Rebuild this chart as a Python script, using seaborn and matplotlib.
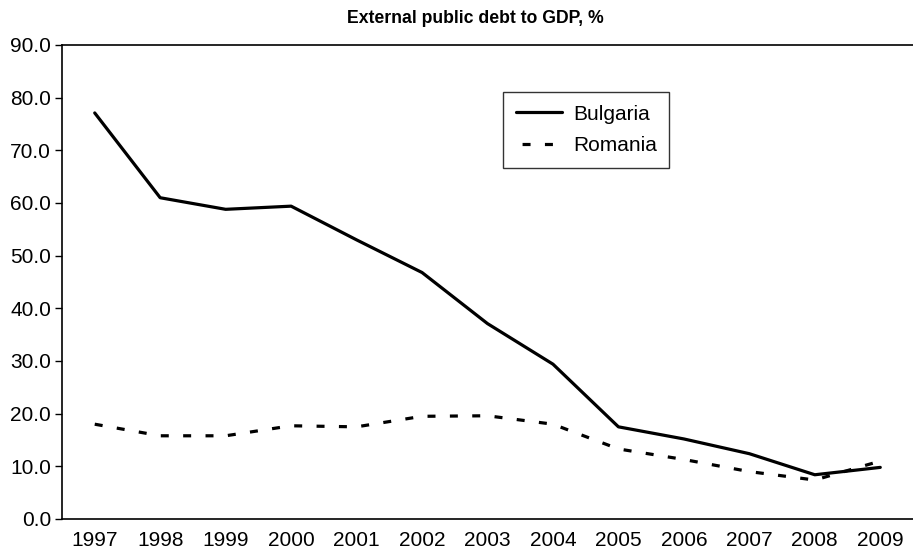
import matplotlib
matplotlib.use("Agg")
import matplotlib.pyplot as plt
import seaborn as sns
import pandas as pd
import numpy as np

years = ["1997", "1998", "1999", "2000", "2001", "2002", "2003",
         "2004", "2005", "2006", "2007", "2008", "2009"]
bulgaria = [77.1, 61.0, 58.8, 59.4, 53.0, 46.8, 37.1, 29.4, 17.5, 15.2, 12.4, 8.4, 9.8]
romania = [18.0, 15.8, 15.8, 17.7, 17.5, 19.5, 19.6, 18.0, 13.3, 11.3, 9.0, 7.4, 11.0]

sns.set_theme(style="white")
plt.rcParams["font.family"] = ["Liberation Sans", "DejaVu Sans"]
plt.rcParams.update({"text.color": "black", "axes.labelcolor": "black",
                     "xtick.color": "black", "ytick.color": "black"})

df = pd.DataFrame({
    "pos": list(range(len(years))) * 2,
    "value": bulgaria + romania,
    "country": ["Bulgaria"] * len(years) + ["Romania"] * len(years),
})

fig = plt.figure(figsize=(9.13, 5.55), dpi=100)
ax = fig.add_axes([62 / 913, 36 / 555, (913 - 62) / 913, (519 - 45) / 555])

sns.lineplot(data=df, x="pos", y="value", hue="country", style="country",
             palette={"Bulgaria": "black", "Romania": "black"},
             dashes={"Bulgaria": "", "Romania": (2.5, 4.5)},
             linewidth=2.3, ax=ax, legend=True)

ax.set_xlim(-0.5, (913 - 62) / 65.9 - 0.5)
ax.set_ylim(0, 90)
ax.set_yticks(np.arange(0, 91, 10))
ax.set_yticklabels([f"{v:.1f}" for v in np.arange(0, 91, 10)], fontsize=15)

# labels centred on categories, tick marks on category boundaries
ax.set_xticks(range(len(years)))
ax.set_xticklabels(years, fontsize=15)
ax.set_xticks(np.arange(-0.5, len(years), 1.0), minor=True)
ax.tick_params(axis="x", which="major", length=0, pad=9)
ax.tick_params(axis="x", which="minor", length=5, width=1, color="black", direction="out")
ax.tick_params(axis="y", length=5, width=1, color="black", direction="out", left=True, pad=3)
ax.set_xlabel("")
ax.set_ylabel("")

for side in ["left", "bottom", "top"]:
    ax.spines[side].set_visible(True)
    ax.spines[side].set_color("black")
    ax.spines[side].set_linewidth(1.2)
ax.spines["right"].set_visible(False)

ax.set_title("External public debt to GDP, %", fontsize=12.7, fontweight="bold",
             x=(475 - 62) / 851, pad=16)

leg = ax.legend(handles=ax.get_legend().legend_handles, labels=["Bulgaria", "Romania"],
                loc="upper left", bbox_to_anchor=((503 - 62) / 851, (519 - 92) / 474),
                borderaxespad=0, fontsize=15, frameon=True, fancybox=False,
                handlelength=2.25, handletextpad=0.5, borderpad=0.6, labelspacing=0.6)
leg.get_frame().set_edgecolor("black")
leg.get_frame().set_linewidth(1.0)
for h in leg.legend_handles:
    h.set_linewidth(2.3)
# two centred dashes in the Romania key
leg.legend_handles[1].set_linestyle((5.1, (2.5, 4.5)))

fig.savefig("out.png", dpi=100)
